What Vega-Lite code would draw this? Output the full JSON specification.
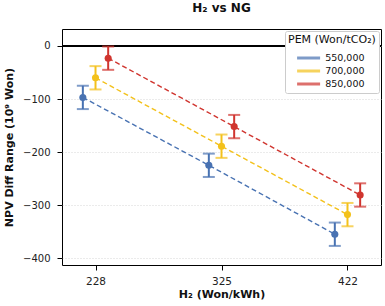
{
  "$schema": "https://vega.github.io/schema/vega-lite/v6.json",
  "autosize": "none",
  "width": 319,
  "height": 236,
  "padding": {"left": 62, "top": 29, "right": 4, "bottom": 41},
  "title": {"text": "H₂ vs NG", "fontSize": 12, "fontWeight": "bold", "font": "DejaVu Sans", "color": "#111", "offset": 14},
  "config": {
    "font": "DejaVu Sans",
    "view": {"stroke": "#000", "strokeWidth": 1},
    "axis": {
      "labelFont": "DejaVu Sans", "labelFontSize": 10, "labelColor": "#222",
      "titleFont": "DejaVu Sans", "titleFontSize": 11, "titleFontWeight": "bold", "titleColor": "#111",
      "tickColor": "#000", "tickSize": 5, "domain": false
    },
    "legend": {
      "labelFont": "DejaVu Sans", "titleFont": "DejaVu Sans"
    }
  },
  "data": {
    "values": [
      {"h2": 228, "pem": "550,000", "npv": -97, "lo": -119, "hi": -75},
      {"h2": 325, "pem": "550,000", "npv": -225, "lo": -247, "hi": -203},
      {"h2": 422, "pem": "550,000", "npv": -355, "lo": -377, "hi": -333},
      {"h2": 228, "pem": "700,000", "npv": -60, "lo": -82, "hi": -38},
      {"h2": 325, "pem": "700,000", "npv": -189, "lo": -211, "hi": -167},
      {"h2": 422, "pem": "700,000", "npv": -318, "lo": -340, "hi": -296},
      {"h2": 228, "pem": "850,000", "npv": -23, "lo": -45, "hi": -1},
      {"h2": 325, "pem": "850,000", "npv": -152, "lo": -174, "hi": -130},
      {"h2": 422, "pem": "850,000", "npv": -281, "lo": -303, "hi": -259}
    ]
  },
  "encoding": {
    "x": {
      "field": "h2", "type": "ordinal",
      "scale": {"type": "point", "padding": 0.266},
      "axis": {"title": "H₂ (Won/kWh)", "labelAngle": 0, "labelFontSize": 10.5, "labelPadding": 6, "titlePadding": 2, "grid": false}
    },
    "xOffset": {"field": "pem", "type": "nominal", "scale": {"type": "point", "range": [-19, 19]}},
    "color": {
      "field": "pem", "type": "nominal",
      "scale": {"domain": ["550,000", "700,000", "850,000"], "range": ["#4872b2", "#f3c11b", "#d0352f"]},
      "legend": {
        "title": "PEM (Won/tCO₂)", "titleFontSize": 11, "titleFontWeight": "normal", "titleColor": "#111",
        "labelFontSize": 9.5, "labelColor": "#111",
        "orient": "top-right", "offset": 2,
        "fillColor": "white", "strokeColor": "#cccccc", "cornerRadius": 2, "padding": 3,
        "symbolType": "M-1,0H3.6", "symbolStrokeWidth": 2.8, "symbolSize": 100, "symbolDash": [1, 0],
        "symbolOffset": 7.6, "labelOffset": 16.6,
        "rowPadding": 0, "titlePadding": 6.5
      }
    }
  },
  "layer": [
    {
      "mark": {"type": "rule", "color": "#000", "strokeWidth": 1},
      "encoding": {"y": {"datum": 0}, "x": null, "xOffset": null, "color": null}
    },
    {
      "mark": {"type": "line", "strokeDash": [5, 3], "strokeWidth": 1.4},
      "encoding": {
        "y": {
          "field": "npv", "type": "quantitative",
          "scale": {"domain": [-413, 32], "nice": false, "zero": false},
          "axis": {
            "title": "NPV Diff Range (10⁹ Won)", "values": [0, -100, -200, -300, -400],
            "labelExpr": "replace(datum.label, '-', '−')", "labelPadding": 7,
            "grid": true, "gridColor": "#cccccc", "gridDash": [1, 2], "gridWidth": 0.8,
            "titlePadding": 8
          }
        }
      }
    },
    {
      "mark": {"type": "rule", "strokeWidth": 2},
      "encoding": {"y": {"field": "lo", "type": "quantitative"}, "y2": {"field": "hi"}}
    },
    {
      "mark": {"type": "tick", "size": 12, "thickness": 2},
      "encoding": {"y": {"field": "lo", "type": "quantitative"}}
    },
    {
      "mark": {"type": "tick", "size": 12, "thickness": 2},
      "encoding": {"y": {"field": "hi", "type": "quantitative"}}
    },
    {
      "mark": {"type": "point", "filled": true, "opacity": 1, "size": 50},
      "encoding": {"y": {"field": "npv", "type": "quantitative"}}
    }
  ]
}
